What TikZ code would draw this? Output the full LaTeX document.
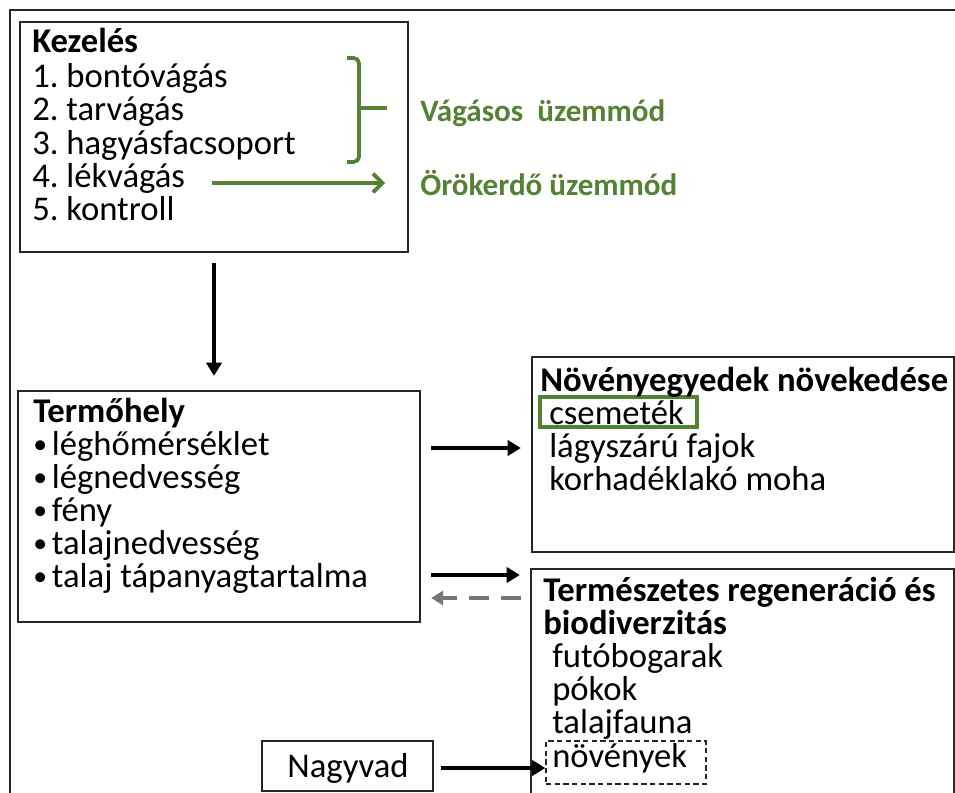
\documentclass[tikz,border=0pt]{standalone}
\usepackage{fontspec}
\setmainfont{Carlito}
\usetikzlibrary{arrows.meta,fit,calc}
\definecolor{ogreen}{RGB}{84,130,53}
\definecolor{dgray}{RGB}{118,118,118}
\frenchspacing
\newcommand{\mybul}{\makebox[14pt][l]{\raisebox{1pt}{\scalebox{0.8}{•}}}}
\begin{document}
\begin{tikzpicture}[x=0.75pt,y=-0.75pt,
  box/.style={draw=black!85, line width=1.7pt, inner sep=0pt},
  txt/.style={inner sep=0pt, anchor=base west, font=\fontsize{26}{30}\selectfont},
  btxt/.style={txt, font=\fontsize{26}{30}\selectfont\bfseries},
  gtxt/.style={inner sep=0pt, anchor=base west, text=ogreen, font=\fontsize{23.3}{27}\selectfont\bfseries},
  blk/.style={line width=3.6pt, -{Triangle[length=10pt,width=11.5pt]}},
  garr/.style={ogreen, line width=2.8pt, -{Straight Barb[length=7pt,width=14pt]}},
  gdash/.style={dgray, line width=3.6pt, dash pattern=on 15pt off 9pt, -{Triangle[length=9pt,width=10.5pt]}}
]
\useasboundingbox (0,0) rectangle (955,792);
% outer frame
\draw[black!85, line width=1.7pt] (960,10) -- (10,10) -- (10,800);

% box corners
\coordinate (k1) at (20,22);   \coordinate (k2) at (408,252);
\coordinate (t1) at (18,391);  \coordinate (t2) at (420,622);
\coordinate (n1) at (532,357); \coordinate (n2) at (954,552);
\coordinate (r1) at (531,569); \coordinate (r2) at (954,810);
\coordinate (v1) at (262,741); \coordinate (v2) at (433,791);
\coordinate (c1) at (540,397); \coordinate (c2) at (697,427);
\coordinate (d1) at (546,741); \coordinate (d2) at (706,784);

\node[box, fit=(k1)(k2)] (kez) {};
\node[box, fit=(t1)(t2)] (term) {};
\node[box, fit=(n1)(n2)] (nov) {};
\node[box, fit=(r1)(r2)] (reg) {};
\node[box, fit=(v1)(v2)] (nagy) {};
\node[draw=ogreen, line width=2.6pt, inner sep=0pt, fit=(c1)(c2)] (csbox) {};
\node[draw=black!85, line width=1pt, dash pattern=on 4pt off 2.5pt, inner sep=0pt, fit=(d1)(d2)] (nbox) {};

% Kezelés texts
\node[btxt] (k0) at (32,53) {Kezelés};
\node[txt] (ka) at (32,87) {1. bontóvágás};
\node[txt] (kb) at (32,120) {2. tarvágás};
\node[txt] (kc) at (32,154) {3. hagyásfacsoport};
\node[txt] (kd) at (32,187) {4. lékvágás};
\node[txt] (ke) at (32,220) {5. kontroll};

% green
\draw[ogreen, line width=2.8pt, rounded corners=4pt] (347,58) -- (359,58) -- (359,162) -- (347,162);
\draw[ogreen, line width=2.8pt] (359,108) -- (387,108);
\node[gtxt] (vag) at (420,121) {Vágásos\ \ üzemmód};
\node[gtxt] (orok) at (420,195) {Örökerdő üzemmód};
\coordinate (ga) at (212,183);
\coordinate (gb) at (385,183);
\draw[garr] (ga) -- (gb);

% Termőhely texts
\node[btxt] (t0) at (33,422) {Termőhely};
\node[txt] (ta) at (33,455) {\mybul léghőmérséklet};
\node[txt] (tb) at (33,488) {\mybul légnedvesség};
\node[txt] (tc) at (33,521) {\mybul fény};
\node[txt] (td) at (33,554) {\mybul talajnedvesség};
\node[txt] (te) at (33,587) {\mybul talaj tápanyagtartalma};

% Növényegyedek texts
\node[btxt] (n0) at (540,391) {Növényegyedek növekedése};
\node[txt] (na) at (549,424) {csemeték};
\node[txt] (nb) at (549,457) {lágyszárú fajok};
\node[txt] (nc) at (549,490) {korhadéklakó moha};

% Természetes texts
\node[btxt] (r0) at (543,601) {Természetes regeneráció és};
\node[btxt] (r0b) at (543,634) {biodiverzitás};
\node[txt] (ra) at (552,667) {futóbogarak};
\node[txt] (rb) at (552,700) {pókok};
\node[txt] (rc) at (552,733) {talajfauna};
\node[txt] (rd) at (552,767) {növények};

% Nagyvad
\node[txt, anchor=base] (nv) at (348,777) {Nagyvad};

% connectors
\coordinate (ya) at (0,448);
\coordinate (yb) at (0,575);
\coordinate (yc) at (0,598);
\coordinate (yd) at (0,768);
\draw[blk, shorten <=7.5pt, shorten >=10.5pt] (kez.south) -- (kez.south |- term.north);
\draw[blk, shorten <=7.5pt, shorten >=7.5pt] (term.east |- ya) -- (nov.west |- ya);
\draw[blk, shorten <=7.5pt, shorten >=7.5pt] (term.east |- yb) -- (reg.west |- yb);
\draw[gdash, shorten <=7pt, shorten >=7.5pt] (reg.west |- yc) -- (term.east |- yc);
\draw[blk, shorten <=5pt, shorten >=0pt] (nagy.east |- yd) -- (nbox.west |- yd);
\end{tikzpicture}
\end{document}
